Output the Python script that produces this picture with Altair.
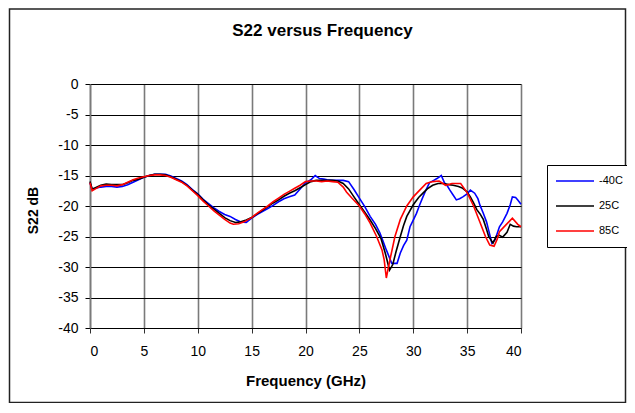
import altair as alt
import pandas as pd

# ---- data ----
series_names = ["-40C", "25C", "85C"]
series_colors = ["#0000ff", "#000000", "#ff0000"]

freq_m40 = [0, 0.2, 0.5, 1, 1.5, 2, 2.5, 3, 3.5, 4, 4.5, 5, 5.5, 6, 6.5, 7, 7.5, 8, 8.5, 9, 9.5,
            10, 10.5, 11, 11.5, 12, 12.5, 13, 13.5, 14, 14.5, 15, 15.5, 16, 16.5, 17, 17.5, 18,
            18.5, 19, 19.5, 20, 20.5, 20.9, 21.3, 21.7, 22, 22.5, 23, 23.5, 24, 24.5, 25,
            25.5, 26, 26.5, 26.9, 27.2, 27.5, 27.8, 28, 28.5, 28.8, 29.1, 29.4, 29.7, 30, 30.3,
            30.6, 30.9, 31.2, 31.5, 31.9, 32.2, 32.6, 32.9, 33.2, 33.4, 33.7, 34, 34.3, 34.6,
            35, 35.3, 35.7, 36, 36.2, 36.5, 36.8, 37, 37.3, 37.6, 38, 38.3, 38.7, 39, 39.2,
            39.5, 39.7, 40]
s22_m40 = [-16.2, -17.3, -17.1, -16.9, -16.8, -16.8, -16.9, -16.8, -16.5, -16.1, -15.7, -15.3,
           -15.0, -14.8, -14.8, -14.8, -15.1, -15.5, -15.9, -16.5, -17.3, -18.0, -18.9, -19.6,
           -20.3, -20.9, -21.4, -21.7, -22.2, -22.6, -22.7, -22.0, -21.4, -20.9, -20.4, -19.9,
           -19.3, -18.8, -18.5, -18.2, -17.2, -16.2, -15.7, -15.0, -15.5, -15.6, -15.7, -15.8,
           -15.8, -15.8, -16.0, -17.3, -18.7,
           -20.1, -21.7, -23.0, -24.4, -25.8, -27.2, -28.5, -29.4, -29.4, -27.7, -26.5, -25.6,
           -23.4, -22.3, -21.2, -19.8, -18.5, -17.3, -16.2, -15.8, -15.5, -15.0, -16.2, -16.8,
           -17.4, -18.2, -19.0, -18.8, -18.5, -18.0, -17.4, -17.9, -18.8, -19.9, -21.2, -22.6,
           -24.0, -26.1, -25.5, -23.4, -22.6, -21.2, -19.8, -18.5, -18.6, -19.0, -19.7]

freq_25 = [0, 0.2, 0.5, 1, 1.5, 2, 2.5, 3, 3.5, 4, 4.5, 5, 5.5, 6, 6.5, 7, 7.5, 8, 8.5, 9, 9.5,
           10, 10.5, 11, 11.5, 12, 12.5, 13, 13.5, 14, 14.5, 15, 15.5, 16, 16.5, 17, 17.5, 18,
           18.5, 19, 19.5, 20, 20.5, 21, 21.5, 22, 22.5, 23, 23.5, 24, 24.5, 25,
           25.5, 26, 26.5, 27, 27.4, 27.8, 28.1, 28.4, 28.8, 29.1, 29.4, 30, 30.5, 30.9, 31.3,
           31.8, 32.3, 32.8, 33.3, 33.7, 34.2, 34.6, 35, 35.3, 35.6, 35.9, 36.2, 36.5, 36.8,
           37, 37.4, 37.7, 38, 38.3, 38.7, 39, 39.3, 39.6, 40]
s22_25 = [-16.0, -17.2, -17.0, -16.6, -16.4, -16.5, -16.5, -16.5, -16.2, -15.8, -15.6, -15.3,
          -15.0, -14.8, -14.8, -14.9, -15.2, -15.6, -16.0, -16.6, -17.4, -18.1, -19.0, -19.8,
          -20.5, -21.2, -21.9, -22.4, -22.7, -22.6, -22.3, -21.9, -21.3, -20.7, -20.1, -19.5,
          -19.0, -18.4, -17.9, -17.5, -17.0, -16.5, -16.0, -15.8, -15.8, -15.8, -15.8, -15.9,
          -16.3, -17.2, -18.5, -19.8,
          -21.0, -22.3, -23.7, -25.3, -27.7, -30.5, -29.6, -27.5, -25.0, -23.2, -21.7, -19.8,
          -18.6, -17.9, -17.2, -16.6, -16.3, -16.3, -16.5, -16.6, -16.8, -17.1, -17.7, -18.5,
          -19.5, -20.6, -21.3, -22.2, -23.8, -25.0, -26.1, -25.0, -24.8, -25.1, -24.3, -23.0,
          -23.3, -23.4, -23.4]

freq_85 = [0, 0.2, 0.5, 1, 1.5, 2, 2.5, 3, 3.5, 4, 4.5, 5, 5.5, 6, 6.5, 7, 7.5, 8, 8.5, 9, 9.5,
           10, 10.5, 11, 11.5, 12, 12.5, 13, 13.3, 13.8, 14.3, 15, 15.5, 16, 16.5, 17, 17.5, 18,
           18.5, 19, 19.5, 20, 20.5, 21, 21.5, 22, 22.5, 23, 23.5, 23.8, 24.3, 25,
           25.5, 26, 26.6, 27.1, 27.3, 27.5, 27.7, 27.9, 28.3, 28.8, 29.4, 30, 30.6, 31.2, 31.8,
           32.4, 33, 33.6, 34.4, 35, 35.6, 36.2, 36.7, 37.1, 37.5, 37.8, 38, 38.6, 39.2, 39.7, 40]
s22_85 = [-16.2, -17.5, -17.2, -16.7, -16.6, -16.6, -16.7, -16.5, -16.1, -15.7, -15.4, -15.2,
          -15.0, -14.9, -14.9, -15.0, -15.3, -15.7, -16.1, -16.7, -17.5, -18.3, -19.2, -20.0,
          -20.8, -21.5, -22.2, -22.8, -23.0, -22.9, -22.6, -21.9, -21.2, -20.6, -20.0, -19.3,
          -18.7, -18.1, -17.6, -17.1, -16.6, -16.0, -15.9, -15.9, -16.0, -15.9, -16.0, -16.1,
          -16.9, -17.7, -18.7, -20.0,
          -21.3, -22.8, -25.0, -27.2, -28.8, -31.8, -30.0, -28.3, -25.0, -22.2, -20.0, -18.5,
          -17.4, -16.3, -16.0, -15.9, -16.6, -16.3, -16.3, -17.8, -20.0, -22.7, -25.0, -26.4,
          -26.6, -25.4, -24.2, -23.1, -22.0, -23.0, -23.4]

x_ticks = [0, 5, 10, 15, 20, 25, 30, 35, 40]
y_ticks = [0, -5, -10, -15, -20, -25, -30, -35, -40]
chart_title = "S22 versus Frequency"

rows = []
for name, fs, vs in [(series_names[0], freq_m40, s22_m40),
                     (series_names[1], freq_25, s22_25),
                     (series_names[2], freq_85, s22_85)]:
    for i, (f, v) in enumerate(zip(fs, vs)):
        rows.append({"series": name, "freq": f, "s22": v, "idx": i})
df = pd.DataFrame(rows)

FONT = "Liberation Sans"

lines = alt.Chart(df).mark_line(strokeWidth=1.6).encode(
    x=alt.X("freq:Q",
            scale=alt.Scale(domain=[0, 40], nice=False, zero=False),
            axis=alt.Axis(values=x_ticks, title="Frequency (GHz)",
                          labelExpr="'' + datum.value",
                          labelFontSize=14, labelFont=FONT, labelColor="black",
                          labelPadding=11, tickSize=5, tickColor="#303030",
                          domainColor="black", domainWidth=1,
                          gridColor="#7a7a7a", gridWidth=1.6,
                          titleFont=FONT, titleFontSize=15, titleFontWeight="bold",
                          titleColor="black", titleY=57.5, titleBaseline="alphabetic")),
    y=alt.Y("s22:Q",
            scale=alt.Scale(domain=[-40, 0], nice=False, zero=False),
            axis=alt.Axis(values=y_ticks, title="S22 dB",
                          labelExpr="'' + datum.value",
                          labelFontSize=14, labelFont=FONT, labelColor="black",
                          labelPadding=7, tickSize=5, tickColor="black",
                          domainColor="#7a7a7a", domainWidth=1.6,
                          gridColor="black", gridWidth=1,
                          titleFont=FONT, titleFontSize=14, titleFontWeight="bold",
                          titleColor="black", titleAngle=270, titleAlign="center",
                          titleBaseline="alphabetic", titleX=-53, titleY=126)),
    color=alt.Color("series:N",
                    scale=alt.Scale(domain=series_names, range=series_colors),
                    legend=alt.Legend(title=None, orient="none", legendX=457, legendY=81,
                                      symbolType="stroke", symbolSize=1444,
                                      symbolStrokeWidth=1.6, labelFont=FONT,
                                      labelFontSize=11, labelColor="black",
                                      strokeColor="black", fillColor="white",
                                      padding=8, clipHeight=16, rowPadding=9,
                                      labelOffset=4)),
    order="idx:Q",
)

title_text = alt.Chart(pd.DataFrame({"t": [chart_title]})).mark_text(
    font=FONT, fontSize=17, fontWeight="bold", color="black",
    align="center", baseline="alphabetic"
).encode(x=alt.value(232.5), y=alt.value(-48.3), text="t:N")

frame = alt.Chart(pd.DataFrame({"a": [0]})).mark_rect(
    filled=False, stroke="#222222", strokeWidth=1.5
).encode(x=alt.value(-80.5), x2=alt.value(535.5), y=alt.value(-75), y2=alt.value(318.5))

chart = alt.layer(frame, title_text, lines).properties(
    width=431, height=244,
    padding={"left": 82, "top": 76, "right": 106, "bottom": 75},
    autosize=alt.AutoSizeParams(type="none"),
).configure_view(stroke=None).configure(background="white")

chart.save("out.html", embed_options={"renderer": "svg", "actions": False})
